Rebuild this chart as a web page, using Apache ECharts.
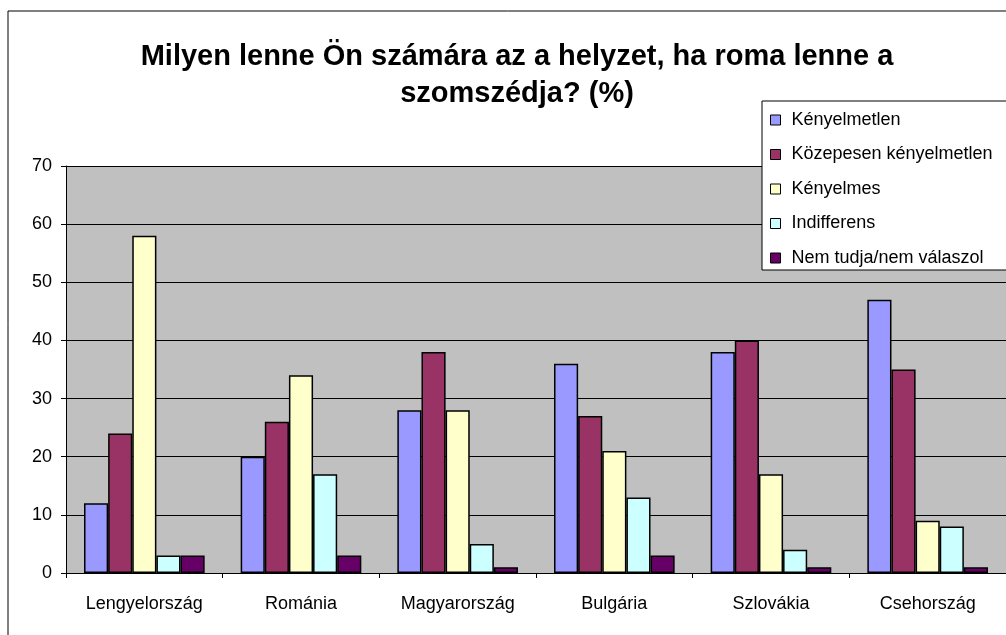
<!DOCTYPE html>
<html>
<head>
<meta charset="utf-8">
<script src="https://cdn.jsdelivr.net/npm/echarts@6/dist/echarts.min.js"></script>
<style>
  html, body { margin: 0; padding: 0; background: #fff; }
  #chart { width: 1006px; height: 635px; }
</style>
</head>
<body>
<div id="chart"></div>
<script>
// adatok
var countries = ['Lengyelország', 'Románia', 'Magyarország', 'Bulgária', 'Szlovákia', 'Csehország'];
var kenyelmetlen = [12, 20, 28, 36, 38, 47];
var kozepesen = [24, 26, 38, 27, 40, 35];
var kenyelmes = [58, 34, 28, 21, 17, 9];
var indifferens = [3, 17, 5, 13, 4, 8];
var nemTudja = [3, 3, 1, 3, 1, 1];

var seriesNames = ['Kényelmetlen', 'Közepesen kényelmetlen', 'Kényelmes', 'Indifferens', 'Nem tudja/nem válaszol'];
var seriesData = [kenyelmetlen, kozepesen, kenyelmes, indifferens, nemTudja];
var colors = ['#9999FF', '#993366', '#FFFFCC', '#CCFFFF', '#660066'];

var font = 'Liberation Sans, Arial, sans-serif';
var chart = echarts.init(document.getElementById('chart'), null, { renderer: 'canvas' });

var option = {
  animation: false,
  backgroundColor: '#fff',
  graphic: [
    {
      type: 'rect',
      z: -1,
      shape: { x: 8, y: 11, width: 1100, height: 700 },
      style: { fill: 'none', stroke: '#000', lineWidth: 1 }
    }
  ],
  title: {
    text: 'Milyen lenne Ön számára az a helyzet, ha roma lenne a\nszomszédja? (%)',
    left: 512,
    top: 33,
    textAlign: 'center',
    textStyle: {
      fontFamily: font,
      fontSize: 29,
      fontWeight: 'bold',
      color: '#000',
      lineHeight: 37
    }
  },
  legend: {
    orient: 'vertical',
    left: 762,
    top: 101,
    data: seriesNames,
    backgroundColor: '#fff',
    borderColor: '#000',
    borderWidth: 1,
    borderRadius: 0,
    padding: [10, 40, 3, 8],
    itemWidth: 10,
    itemHeight: 10,
    itemGap: 16.5,
    icon: 'rect',
    itemStyle: { borderColor: '#000', borderWidth: 1 },
    textStyle: { fontFamily: font, fontSize: 18, color: '#000', padding: [0, 0, 0, 6] }
  },
  grid: {
    left: 66,
    right: -11,
    top: 166,
    bottom: 62,
    show: true,
    backgroundColor: '#C0C0C0',
    borderWidth: 0
  },
  xAxis: {
    type: 'category',
    data: countries,
    axisLine: { lineStyle: { color: '#000', width: 1 } },
    axisTick: { show: true, length: 5, lineStyle: { color: '#000' } },
    axisLabel: { fontFamily: font, fontSize: 18, color: '#000', margin: 22 }
  },
  yAxis: {
    type: 'value',
    min: 0,
    max: 70,
    interval: 10,
    axisLine: { show: true, lineStyle: { color: '#000', width: 1 } },
    axisTick: { show: true, length: 5, lineStyle: { color: '#000' } },
    axisLabel: { fontFamily: font, fontSize: 18, color: '#000', margin: 14 },
    splitLine: { show: true, lineStyle: { color: '#000', width: 1 } }
  },
  series: seriesNames.map(function (name, i) {
    return {
      name: name,
      type: 'bar',
      data: seriesData[i],
      barGap: '0%',
      barCategoryGap: '23%',
      itemStyle: { color: colors[i], borderColor: '#000', borderWidth: 1.5 }
    };
  })
};

chart.setOption(option);
</script>
</body>
</html>
